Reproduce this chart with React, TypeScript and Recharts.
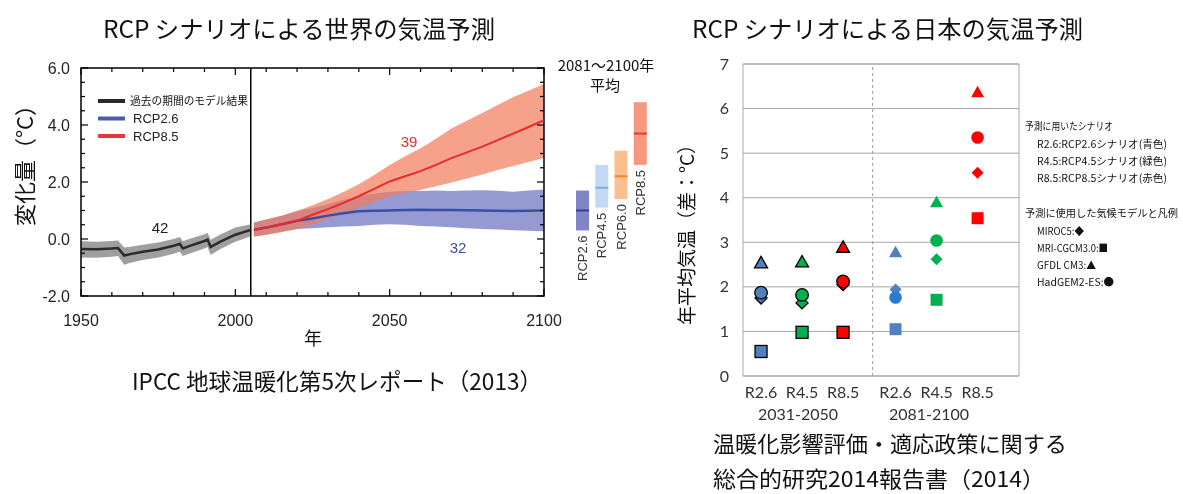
import React from 'react';
import {
  ComposedChart, Area, Line, XAxis, YAxis, ReferenceArea, ReferenceLine,
  Legend, Bar, Scatter, CartesianGrid,
} from 'recharts';

const JP = "'Noto Sans CJK JP', 'Noto Sans', sans-serif";
const SANS = "'Liberation Sans', Arial, sans-serif";
const LATO = "Lato, 'Open Sans', sans-serif";

// ---------------- Global projection (IPCC) ----------------
const HIST_YEARS = [1950, 1955, 1960, 1962, 1964, 1966, 1970, 1975, 1980, 1982, 1983, 1985, 1990, 1991, 1992, 1995, 2000, 2005];
const HIST_MEAN = [-0.35, -0.36, -0.33, -0.32, -0.58, -0.53, -0.45, -0.37, -0.24, -0.17, -0.33, -0.25, -0.07, -0.02, -0.28, -0.1, 0.15, 0.32];
const HIST_LOW = [-0.65, -0.66, -0.62, -0.6, -0.9, -0.83, -0.74, -0.65, -0.52, -0.45, -0.6, -0.52, -0.33, -0.28, -0.56, -0.36, -0.1, 0.1];
const HIST_HIGH = [-0.08, -0.1, -0.07, -0.05, -0.3, -0.27, -0.2, -0.12, 0.0, 0.07, -0.08, 0.0, 0.17, 0.22, -0.03, 0.15, 0.4, 0.52];

const FUT_YEARS = [2006, 2010, 2015, 2020, 2025, 2030, 2035, 2040, 2045, 2050, 2055, 2060, 2065, 2070, 2075, 2080, 2085, 2090, 2095, 2100];
const RCP26_MEAN = [0.32, 0.4, 0.52, 0.64, 0.72, 0.82, 0.9, 0.97, 0.99, 1.0, 1.02, 1.03, 1.02, 1.02, 1.01, 1.0, 0.99, 0.98, 0.99, 1.0];
const RCP26_HIGH = [0.58, 0.68, 0.82, 0.98, 1.1, 1.22, 1.38, 1.5, 1.6, 1.66, 1.68, 1.68, 1.7, 1.68, 1.7, 1.71, 1.69, 1.66, 1.7, 1.74];
const RCP26_LOW = [0.1, 0.16, 0.26, 0.35, 0.38, 0.41, 0.44, 0.46, 0.5, 0.52, 0.5, 0.46, 0.44, 0.41, 0.38, 0.35, 0.33, 0.31, 0.29, 0.27];
const RCP85_MEAN = [0.32, 0.4, 0.52, 0.64, 0.85, 1.05, 1.27, 1.5, 1.76, 2.02, 2.2, 2.38, 2.6, 2.84, 3.04, 3.24, 3.47, 3.7, 3.93, 4.17];
const RCP85_HIGH = [0.58, 0.68, 0.82, 0.98, 1.18, 1.4, 1.65, 1.92, 2.25, 2.6, 2.9, 3.18, 3.52, 3.88, 4.15, 4.42, 4.7, 4.98, 5.2, 5.44];
const RCP85_LOW = [0.08, 0.14, 0.24, 0.35, 0.52, 0.7, 0.9, 1.1, 1.3, 1.5, 1.62, 1.72, 1.85, 1.98, 2.12, 2.26, 2.42, 2.56, 2.7, 2.84];

const LEFT_X_TICKS = [1950, 1960, 1970, 1980, 1990, 2000, 2010, 2020, 2030, 2040, 2050, 2060, 2070, 2080, 2090, 2100];
const LEFT_Y_TICKS = [-2, -1.5, -1, -0.5, 0, 0.5, 1, 1.5, 2, 2.5, 3, 3.5, 4, 4.5, 5, 5.5, 6];
const LEFT_LEGEND = [
  { label: '過去の期間のモデル結果', color: '#2a2a2a', jp: true },
  { label: 'RCP2.6', color: '#4a5cae', jp: false },
  { label: 'RCP8.5', color: '#e8383a', jp: false },
];

// 2081-2100 averages
const BOX_NAMES = ['RCP2.6', 'RCP4.5', 'RCP6.0', 'RCP8.5'];
const BOX_LOW = [0.3, 1.1, 1.4, 2.6];
const BOX_HIGH = [1.7, 2.6, 3.1, 4.8];
const BOX_MEAN = [1.0, 1.8, 2.2, 3.7];
const BOX_FILL = ['#8085c8', '#c3d8f2', '#f9c08f', '#f5987e'];
const BOX_LINE = ['#2f3f96', '#7eaade', '#f0842c', '#e63a3a'];

// ---------------- Japan projection ----------------
const JP_CATEGORIES = ['R2.6', 'R4.5', 'R8.5', 'R2.6', 'R4.5', 'R8.5'];
const JP_POSITIONS = [1, 2, 3, 4.28, 5.28, 6.28];
const JP_PERIODS = ['2031-2050', '2081-2100'];
const MIROC5 = [1.75, 1.64, 2.05, 1.94, 2.62, 4.56];
const MRI_CGCM3 = [0.55, 0.98, 0.98, 1.05, 1.71, 3.54];
const GFDL_CM3 = [2.55, 2.57, 2.9, 2.79, 3.91, 6.38];
const HADGEM2 = [1.87, 1.82, 2.12, 1.76, 3.04, 5.35];
const JP_COLORS = ['#4f81bd', '#00b050', '#ff0000', '#4f81bd', '#00b050', '#ff0000'];
const HAD_COLORS = ['#4f81bd', '#00b050', '#ff0000', '#2a7bd2', '#00b050', '#ff0000'];
const JP_Y_TICKS = [0, 1, 2, 3, 4, 5, 6, 7];
const JP_LEGEND_SCEN_TITLE = '予測に用いたシナリオ';
const JP_LEGEND_SCEN = ['R2.6:RCP2.6シナリオ(青色)', 'R4.5:RCP4.5シナリオ(緑色)', 'R8.5:RCP8.5シナリオ(赤色)'];
const JP_LEGEND_MODEL_TITLE = '予測に使用した気候モデルと凡例';
const JP_LEGEND_MODELS = ['MIROC5:◆', 'MRI-CGCM3.0:■', 'GFDL CM3:▲', 'HadGEM2-ES:●'];
const JP_LEGEND_MODEL_LEN = [47, 71, 59, 77];

// ---------------- layout ----------------
const L_W = 580, L_H = 330;
const L_MARGIN = { top: 68, right: 36, bottom: 0, left: 11 };
const L_PLOT_TOP = L_MARGIN.top;
const L_PLOT_RIGHT = L_W - L_MARGIN.right;

const histData = HIST_YEARS.map((year, i) => ({ year, mean: HIST_MEAN[i], band: [HIST_LOW[i], HIST_HIGH[i]] }));
const rcp26Data = FUT_YEARS.map((year, i) => ({ year, mean: RCP26_MEAN[i], band: [RCP26_LOW[i], RCP26_HIGH[i]] }));
const rcp85Data = FUT_YEARS.map((year, i) => ({ year, mean: RCP85_MEAN[i], band: [RCP85_LOW[i], RCP85_HIGH[i]] }));
const boxData = BOX_NAMES.map((name, i) => ({
  name, range: [BOX_LOW[i], BOX_HIGH[i]], mean: BOX_MEAN[i], fill: BOX_FILL[i], line: BOX_LINE[i],
}));

const makeJpData = (vals: number[], colors: string[]) =>
  JP_POSITIONS.map((x, i) => ({ x, y: vals[i], color: colors[i], outlined: i < 3 }));

const LeftXTick = (props: any) => {
  const { x, y, payload } = props;
  const v = payload.value;
  const major = v % 50 === 0;
  const len = major ? 7 : 4;
  return (
    <g>
      <line x1={x} y1={y} x2={x} y2={y - len} stroke="#000" strokeWidth={1.2} />
      <line x1={x} y1={L_PLOT_TOP} x2={x} y2={L_PLOT_TOP + len} stroke="#000" strokeWidth={1.2} />
      {major && (
        <text x={x} y={y + 30} textAnchor="middle" fontFamily={SANS} fontSize={16} fill="#222">{v}</text>
      )}
    </g>
  );
};

const LeftYTick = (props: any) => {
  const { x, y, payload } = props;
  const v = payload.value;
  const major = Math.abs(v % 2) === 0;
  const len = major ? 7 : 4;
  return (
    <g>
      <line x1={x} y1={y} x2={x + len} y2={y} stroke="#000" strokeWidth={1.2} />
      <line x1={L_PLOT_RIGHT - len} y1={y} x2={L_PLOT_RIGHT} y2={y} stroke="#000" strokeWidth={1.2} />
      {major && (
        <text x={x - 11} y={y} dy="0.35em" textAnchor="end" fontFamily={SANS} fontSize={16} fill="#222">{v.toFixed(1)}</text>
      )}
    </g>
  );
};

const LeftLegend = () => (
  <svg width={190} height={52} style={{ display: 'block' }}>
    {LEFT_LEGEND.map((item, i) => {
      const cy = 9 + i * 17.5;
      return (
        <g key={i}>
          <line x1={3} x2={30} y1={cy} y2={cy} stroke={item.color} strokeWidth={4} />
          {item.jp ? (
            <text x={35} y={cy} dy="0.36em" fontFamily={JP} fontSize={11} fill="#111" textLength={118} lengthAdjust="spacingAndGlyphs">{item.label}</text>
          ) : (
            <text x={38} y={cy} dy="0.36em" fontFamily={SANS} fontSize={13} fill="#222">{item.label}</text>
          )}
        </g>
      );
    })}
  </svg>
);

const BoxShape = (props: any) => {
  const { x, y, width, height, payload } = props;
  const top = Math.min(y, y + height);
  const h = Math.abs(height);
  const cx = x + width / 2;
  const ly = top + h + 5;
  return (
    <g>
      <rect x={x} y={top} width={width} height={h} fill={payload.fill} />
      <text x={cx} y={ly} dy="0.36em" textAnchor="end" transform={`rotate(-90 ${cx} ${ly})`}
        fontFamily={SANS} fontSize={13} fill="#333">{payload.name}</text>
    </g>
  );
};

const MeanShape = (props: any) => {
  const { cx, cy, payload } = props;
  return <line x1={cx - 6.5} x2={cx + 6.5} y1={cy} y2={cy} stroke={payload.line} strokeWidth={2} />;
};

const markerShape = (kind: string) => (props: any) => {
  const { cx, cy, payload } = props;
  const stroke = payload.outlined ? '#000' : 'none';
  const sw = payload.outlined ? 1.3 : 0;
  const fill = payload.color;
  if (kind === 'diamond') {
    const r = 6;
    return <polygon points={`${cx},${cy - r} ${cx + r},${cy} ${cx},${cy + r} ${cx - r},${cy}`} fill={fill} stroke={stroke} strokeWidth={sw} />;
  }
  if (kind === 'square') {
    return <rect x={cx - 6} y={cy - 6} width={12} height={12} fill={fill} stroke={stroke} strokeWidth={sw} />;
  }
  if (kind === 'triangle') {
    return <polygon points={`${cx},${cy - 6} ${cx + 6.5},${cy + 5.5} ${cx - 6.5},${cy + 5.5}`} fill={fill} stroke={stroke} strokeWidth={sw} />;
  }
  return <circle cx={cx} cy={cy} r={6.3} fill={fill} stroke={stroke} strokeWidth={sw} />;
};

const JpXTick = (props: any) => {
  const { x, y, payload } = props;
  const idx = JP_POSITIONS.indexOf(payload.value);
  return (
    <text x={x} y={y + 22} textAnchor="middle" fontFamily={LATO} fontSize={16} fill="#333">{JP_CATEGORIES[idx]}</text>
  );
};

const JpYTick = (props: any) => {
  const { x, y, payload } = props;
  return (
    <text x={x} y={y} dy="0.35em" textAnchor="end" fontFamily={LATO} fontSize={16} fill="#333">{payload.value}</text>
  );
};

const T = (p: any) => {
  const { children, ...rest } = p;
  return <text {...rest}>{children}</text>;
};

export default function App() {
  return (
    <div style={{ position: 'absolute', left: 0, top: 0, width: 1183, height: 494, background: '#fff', overflow: 'hidden' }}>
      {/* Global chart */}
      <div style={{ position: 'absolute', left: 0, top: 0 }}>
        <ComposedChart width={L_W} height={L_H} margin={L_MARGIN}>
          <XAxis dataKey="year" type="number" domain={[1950, 2100]} ticks={LEFT_X_TICKS} interval={0}
            allowDataOverflow axisLine={false} tickLine={false} tickSize={0} tickMargin={0} height={34} tick={<LeftXTick />} />
          <YAxis type="number" domain={[-2, 6]} ticks={LEFT_Y_TICKS} interval={0} allowDataOverflow
            axisLine={false} tickLine={false} tickSize={0} tickMargin={0} width={70} tick={<LeftYTick />} />
          <Area data={histData} dataKey="band" type="linear" stroke="none" fill="#9a9a9a" fillOpacity={0.95} isAnimationActive={false} />
          <Area data={rcp26Data} dataKey="band" type="linear" stroke="none" fill="#7378c4" fillOpacity={0.75} isAnimationActive={false} />
          <Area data={rcp85Data} dataKey="band" type="linear" stroke="none" fill="#f27a5a" fillOpacity={0.7}
            style={{ mixBlendMode: 'multiply' }} isAnimationActive={false} />
          <Line data={histData} dataKey="mean" type="linear" stroke="#2a2a2a" strokeWidth={2.5} dot={false} isAnimationActive={false} />
          <Line data={rcp26Data} dataKey="mean" type="linear" stroke="#3a4ea8" strokeWidth={2.5} dot={false} isAnimationActive={false} />
          <Line data={rcp85Data} dataKey="mean" type="linear" stroke="#ec2a2a" strokeWidth={2} dot={false} isAnimationActive={false} />
          <ReferenceLine x={2005} stroke="#000" strokeWidth={1.5} />
          <ReferenceArea x1={1950} x2={2100} y1={-2} y2={6} fill="none" stroke="#000" strokeWidth={1.5} />
          <Legend layout="vertical" align="center" verticalAlign="middle"
            wrapperStyle={{ left: 95, top: 92, width: 190, height: 52 }} content={() => <LeftLegend />} />
        </ComposedChart>
      </div>

      {/* 2081-2100 average boxes */}
      <div style={{ position: 'absolute', left: 560, top: 0 }}>
        <ComposedChart width={110} height={330} data={boxData} margin={{ top: 68, right: 20, bottom: 34, left: 13 }}>
          <XAxis dataKey="name" type="category" hide />
          <YAxis type="number" domain={[-2, 6]} hide />
          <Bar dataKey="range" barSize={13} shape={<BoxShape />} isAnimationActive={false} />
          <Scatter dataKey="mean" shape={<MeanShape />} isAnimationActive={false} />
        </ComposedChart>
      </div>

      {/* Japan chart */}
      <div style={{ position: 'absolute', left: 690, top: 0 }}>
        <ComposedChart width={340} height={420} margin={{ top: 64, right: 11, bottom: 0, left: 3 }}>
          <CartesianGrid vertical={false} stroke="#a8a8a8" />
          <XAxis dataKey="x" type="number" domain={[0.56, 7.29]} ticks={JP_POSITIONS} interval={0} allowDataOverflow
            axisLine={false} tickLine={false} tickSize={0} tickMargin={0} height={44} tick={<JpXTick />} />
          <YAxis type="number" domain={[0, 7]} ticks={JP_Y_TICKS} interval={0} allowDataOverflow
            axisLine={false} tickLine={false} tickSize={0} tickMargin={14} width={50} tick={<JpYTick />} />
          <ReferenceArea x1={0.56} x2={7.29} y1={0} y2={7} fill="none" stroke="#a8a8a8" strokeWidth={1} />
          <ReferenceLine x={3.72} stroke="#a8a8a8" strokeWidth={1.2} strokeDasharray="3 3" />
          <Scatter data={makeJpData(MIROC5, JP_COLORS)} dataKey="y" shape={markerShape('diamond')} isAnimationActive={false} />
          <Scatter data={makeJpData(MRI_CGCM3, JP_COLORS)} dataKey="y" shape={markerShape('square')} isAnimationActive={false} />
          <Scatter data={makeJpData(GFDL_CM3, JP_COLORS)} dataKey="y" shape={markerShape('triangle')} isAnimationActive={false} />
          <Scatter data={makeJpData(HADGEM2, HAD_COLORS)} dataKey="y" shape={markerShape('circle')} isAnimationActive={false} />
        </ComposedChart>
      </div>

      {/* texts */}
      <svg width={1183} height={494} style={{ position: 'absolute', left: 0, top: 0, pointerEvents: 'none' }}>
        <T x={103} y={27} dominantBaseline="central" fontFamily={JP} fontSize={24} fill="#111"
          textLength={392} lengthAdjust="spacingAndGlyphs">RCP シナリオによる世界の気温予測</T>
        <T x={692} y={27} dominantBaseline="central" fontFamily={JP} fontSize={24} fill="#111"
          textLength={391} lengthAdjust="spacingAndGlyphs">RCP シナリオによる日本の気温予測</T>

        <T x={606} y={64} dominantBaseline="central" textAnchor="middle" fontFamily={JP} fontSize={15} fill="#111">2081～2100年</T>
        <T x={605} y={84} dominantBaseline="central" textAnchor="middle" fontFamily={JP} fontSize={15} fill="#111">平均</T>

        <T x={23} y={160} dominantBaseline="central" textAnchor="middle" fontFamily={JP} fontSize={22} fill="#111"
          transform="rotate(-90 23 160)">変化量（°C）</T>
        <T x={313} y={337} dominantBaseline="central" textAnchor="middle" fontFamily={JP} fontSize={18} fill="#111">年</T>
        <T x={132} y={380} dominantBaseline="central" fontFamily={JP} fontSize={23} fill="#111"
          textLength={410} lengthAdjust="spacingAndGlyphs">IPCC 地球温暖化第5次レポート（2013）</T>

        <T x={160} y={227} dominantBaseline="central" textAnchor="middle" fontFamily={SANS} fontSize={15} fill="#222">42</T>
        <T x={409} y={141} dominantBaseline="central" textAnchor="middle" fontFamily={SANS} fontSize={15} fill="#e23030">39</T>
        <T x={458} y={247} dominantBaseline="central" textAnchor="middle" fontFamily={SANS} fontSize={15} fill="#3a4ea8">32</T>

        <T x={685} y={230} dominantBaseline="central" textAnchor="middle" fontFamily={JP} fontSize={19} fill="#111"
          transform="rotate(-90 685 230)">年平均気温（差：°C）</T>

        <T x={798} y={413} dominantBaseline="central" textAnchor="middle" fontFamily={LATO} fontSize={16} fill="#333">{JP_PERIODS[0]}</T>
        <T x={929} y={413} dominantBaseline="central" textAnchor="middle" fontFamily={LATO} fontSize={16} fill="#333">{JP_PERIODS[1]}</T>

        <T x={1025} y={125} dominantBaseline="central" fontFamily={JP} fontSize={10.5} fill="#111" textLength={88} lengthAdjust="spacingAndGlyphs">{JP_LEGEND_SCEN_TITLE}</T>
        {JP_LEGEND_SCEN.map((s, i) => (
          <T key={s} x={1037} y={143 + i * 17} dominantBaseline="central" fontFamily={JP} fontSize={10.5} fill="#111"
            textLength={130} lengthAdjust="spacingAndGlyphs">{s}</T>
        ))}
        <T x={1025} y={212} dominantBaseline="central" fontFamily={JP} fontSize={10.2} fill="#111" textLength={153} lengthAdjust="spacingAndGlyphs">{JP_LEGEND_MODEL_TITLE}</T>
        {JP_LEGEND_MODELS.map((s, i) => (
          <T key={s} x={1037} y={230 + i * 17.2} dominantBaseline="central" fontFamily={JP} fontSize={10.5} fill="#111"
            textLength={JP_LEGEND_MODEL_LEN[i]} lengthAdjust="spacingAndGlyphs">{s}</T>
        ))}

        <T x={713} y={442} dominantBaseline="central" fontFamily={JP} fontSize={22} fill="#111"
          textLength={354} lengthAdjust="spacingAndGlyphs">温暖化影響評価・適応政策に関する</T>
        <T x={713} y={477} dominantBaseline="central" fontFamily={JP} fontSize={22} fill="#111"
          textLength={332} lengthAdjust="spacingAndGlyphs">総合的研究2014報告書（2014）</T>
      </svg>
    </div>
  );
}
